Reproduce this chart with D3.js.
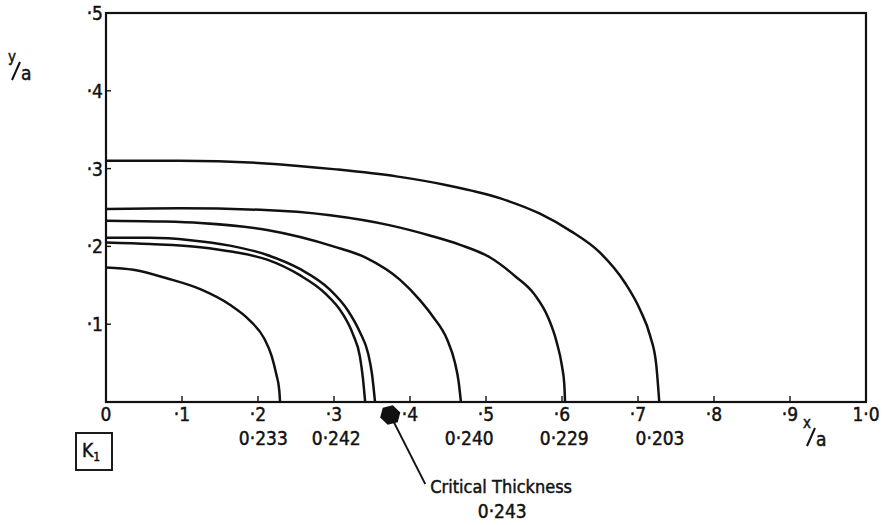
<!DOCTYPE html>
<html>
<head>
<meta charset="utf-8">
<script src="https://cdn.jsdelivr.net/npm/d3@7"></script>
<style>
  html, body { margin: 0; padding: 0; background: #fff; }
  svg { display: block; }
  text { font-family: "DejaVu Sans Condensed", "DejaVu Sans", sans-serif; fill: #111; stroke: #111; stroke-width: 0.45px; }
</style>
</head>
<body>
<svg id="chart" width="882" height="525"></svg>
<script>
// ---- data ----
const xTickValues = [0, 0.1, 0.2, 0.3, 0.4, 0.5, 0.6, 0.7, 0.8, 0.9, 1.0];
const xTickLabels = ["0", "·1", "·2", "·3", "·4", "·5", "·6", "·7", "·8", "·9", "1·0"];
const yTickValues = [0.1, 0.2, 0.3, 0.4, 0.5];
const yTickLabels = ["·1", "·2", "·3", "·4", "·5"];

// contour curves (x/a, y/a)
const curve203 = [[0,0.310],[0.097,0.310],[0.205,0.307],[0.303,0.299],[0.382,0.290],[0.447,0.279],[0.518,0.262],[0.571,0.242],[0.611,0.220],[0.650,0.192],[0.683,0.153],[0.703,0.118],[0.716,0.085],[0.724,0.048],[0.728,0]];
const curve229 = [[0,0.248],[0.097,0.249],[0.203,0.247],[0.295,0.240],[0.374,0.227],[0.426,0.214],[0.466,0.202],[0.505,0.186],[0.538,0.162],[0.564,0.138],[0.582,0.108],[0.593,0.077],[0.600,0.046],[0.603,0.023],[0.604,0]];
const curve240 = [[0,0.233],[0.071,0.232],[0.124,0.230],[0.212,0.221],[0.299,0.200],[0.343,0.185],[0.387,0.157],[0.413,0.131],[0.430,0.110],[0.449,0.080],[0.459,0.051],[0.464,0.026],[0.467,0]];
const curve243 = [[0,0.211],[0.058,0.211],[0.111,0.208],[0.163,0.201],[0.212,0.189],[0.255,0.171],[0.295,0.144],[0.318,0.118],[0.334,0.090],[0.345,0.062],[0.350,0.036],[0.354,0]];
const curve242 = [[0,0.205],[0.058,0.203],[0.124,0.199],[0.167,0.193],[0.212,0.183],[0.255,0.163],[0.288,0.140],[0.311,0.114],[0.325,0.087],[0.334,0.059],[0.338,0.031],[0.341,0]];
const curve233 = [[0,0.173],[0.036,0.170],[0.080,0.159],[0.124,0.145],[0.163,0.125],[0.189,0.105],[0.208,0.082],[0.218,0.059],[0.224,0.036],[0.228,0.015],[0.229,0]];
const curves = [curve203, curve229, curve240, curve243, curve242, curve233];

// K1 values written under the x axis
const valueLabels = ["0·233", "0·242", "0·240", "0·229", "0·203"];
const valueLabelX = [0.207, 0.303, 0.478, 0.603, 0.729];

// critical thickness annotation
const criticalLabel = "Critical Thickness";
const criticalValue = "0·243";
const criticalX = 0.374;

// ---- drawing ----
const svg = d3.select("#chart");
const x = d3.scaleLinear().domain([0, 1]).range([106, 866]);
const y = d3.scaleLinear().domain([0, 0.5]).range([402, 13]);
const ink = "#111";

// frame
svg.append("rect")
  .attr("x", x(0)).attr("y", y(0.5))
  .attr("width", x(1) - x(0)).attr("height", y(0) - y(0.5))
  .attr("fill", "none").attr("stroke", ink).attr("stroke-width", 2.2);

// x ticks (upward, inside)
svg.append("g").selectAll("line")
  .data(xTickValues.slice(1, -1))
  .join("line")
  .attr("x1", d => x(d)).attr("x2", d => x(d))
  .attr("y1", y(0)).attr("y2", y(0) - 6)
  .attr("stroke", ink).attr("stroke-width", 1.4);

svg.append("g").selectAll("text")
  .data(xTickValues)
  .join("text")
  .attr("x", d => x(d))
  .attr("y", y(0) + 19)
  .attr("text-anchor", "middle")
  .attr("font-size", 19)
  .text((d, i) => xTickLabels[i]);

// y ticks (rightward, inside)
svg.append("g").selectAll("line")
  .data(yTickValues.slice(0, -1))
  .join("line")
  .attr("x1", x(0)).attr("x2", x(0) + 5)
  .attr("y1", d => y(d)).attr("y2", d => y(d))
  .attr("stroke", ink).attr("stroke-width", 1.4);

svg.append("g").selectAll("text")
  .data(yTickValues)
  .join("text")
  .attr("x", x(0) - 3)
  .attr("y", d => y(d) + 7)
  .attr("text-anchor", "end")
  .attr("font-size", 19)
  .text((d, i) => yTickLabels[i]);

// curves
const line = d3.line()
  .x(d => x(d[0])).y(d => y(d[1]))
  .curve(d3.curveMonotoneX);

svg.append("g").selectAll("path")
  .data(curves)
  .join("path")
  .attr("d", line)
  .attr("fill", "none")
  .attr("stroke", ink)
  .attr("stroke-width", 2.5)
  .attr("stroke-linejoin", "round");

// value labels
svg.append("g").selectAll("text")
  .data(valueLabels)
  .join("text")
  .attr("x", (d, i) => x(valueLabelX[i]))
  .attr("y", y(0) + 43)
  .attr("text-anchor", "middle")
  .attr("font-size", 19)
  .text(d => d);

// critical thickness marker + leader
const cx = x(criticalX), cy = y(0) + 13;
const blob = d3.range(6).map(k => {
  const a = Math.PI / 6 + k * Math.PI / 3;
  return [cx + 10.5 * Math.cos(a), cy + 10 * Math.sin(a)];
});
svg.append("path")
  .attr("d", d3.line()(blob) + "Z")
  .attr("fill", ink)
  .attr("transform", `rotate(15 ${cx} ${cy})`);
svg.append("line")
  .attr("x1", cx).attr("y1", cy)
  .attr("x2", cx + 35).attr("y2", cy + 69)
  .attr("stroke", ink).attr("stroke-width", 1.8);
svg.append("text")
  .attr("x", cx + 40).attr("y", cy + 78)
  .attr("font-size", 18)
  .text(criticalLabel);
svg.append("text")
  .attr("x", cx + 112).attr("y", cy + 103)
  .attr("text-anchor", "middle")
  .attr("font-size", 19)
  .text(criticalValue);

// axis titles: y/a and x/a (letter, slash, a)
function fracLabel(g, left, top, letter) {
  g.append("text").attr("x", left).attr("y", top + 9).attr("font-size", 15).text(letter);
  g.append("line")
    .attr("x1", left + 4).attr("y1", top + 27)
    .attr("x2", left + 12).attr("y2", top + 9)
    .attr("stroke", ink).attr("stroke-width", 2);
  g.append("text").attr("x", left + 13).attr("y", top + 27).attr("font-size", 19).text("a");
}
fracLabel(svg.append("g"), 8, 53, "y");
fracLabel(svg.append("g"), 803, 419, "x");

// K1 box
svg.append("rect")
  .attr("x", 76).attr("y", 433).attr("width", 36).attr("height", 37)
  .attr("fill", "none").attr("stroke", ink).attr("stroke-width", 1.9);
const kt = svg.append("text").attr("x", 82).attr("y", 457).attr("font-size", 19);
kt.append("tspan").text("K");
kt.append("tspan").attr("font-size", 12).attr("dy", 4).text("1");
</script>
</body>
</html>
